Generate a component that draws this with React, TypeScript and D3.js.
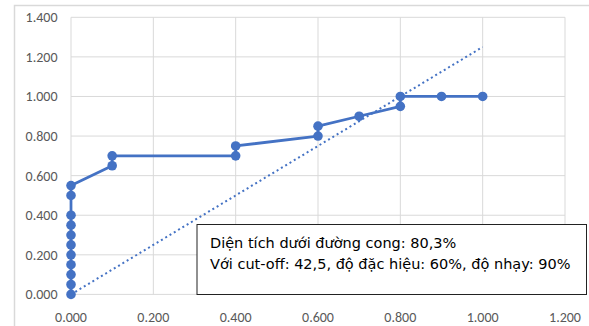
import React from "react";
import * as d3 from "d3";

const W = 589;
const H = 326;

const fprX = [0, 0, 0, 0, 0, 0, 0, 0, 0, 0, 0, 0.1, 0.1, 0.4, 0.4, 0.6, 0.6, 0.7, 0.8, 0.8, 0.9, 1.0];
const tprY = [0, 0.05, 0.1, 0.15, 0.2, 0.25, 0.3, 0.35, 0.4, 0.5, 0.55, 0.65, 0.7, 0.7, 0.75, 0.8, 0.85, 0.9, 0.95, 1.0, 1.0, 1.0];
const refX = [0, 1.0];
const refY = [0, 1.25];
const xTicks = [0, 0.2, 0.4, 0.6, 0.8, 1.0, 1.2];
const yTicks = [0, 0.2, 0.4, 0.6, 0.8, 1.0, 1.2, 1.4];
const noteLines = [
  "Diện tích dưới đường cong: 80,3%",
  "Với cut-off: 42,5, độ đặc hiệu: 60%, độ nhạy: 90%",
];

export default function App() {
  const x = d3.scaleLinear().domain([0, 1.2]).range([71, 565]);
  const y = d3.scaleLinear().domain([0, 1.4]).range([294.4, 17.3]);
  const pts: [number, number][] = fprX.map((v, i) => [v, tprY[i]]);
  const refPts: [number, number][] = refX.map((v, i) => [v, refY[i]]);
  const line = d3
    .line<[number, number]>()
    .x((d) => x(d[0]))
    .y((d) => y(d[1]));
  const fmt = d3.format(".3f");
  const font = "Carlito, 'Open Sans', 'Noto Sans', sans-serif";
  const noteFont = "'DejaVu Sans', 'Noto Sans', sans-serif";
  return (
    <svg
      width={W}
      height={H}
      style={{ position: "absolute", left: 0, top: 0, background: "#fff" }}
    >
      <rect x={14.5} y={5.5} width={W} height={H} fill="#fff" stroke="#d9d9d9" strokeWidth={1.5} />
      {yTicks.map((t) => (
        <line key={"gy" + t} x1={x(0)} x2={x(1.2)} y1={y(t)} y2={y(t)} stroke="#d9d9d9" strokeWidth={1} />
      ))}
      {xTicks.map((t) => (
        <line key={"gx" + t} x1={x(t)} x2={x(t)} y1={y(0)} y2={y(1.4)} stroke="#d9d9d9" strokeWidth={1} />
      ))}
      {yTicks.map((t) => (
        <text
          key={"ty" + t}
          x={57.5}
          y={y(t)}
          dy="0.35em"
          textAnchor="end"
          fontFamily={font}
          fontSize={14}
          fill="#595959"
        >
          {fmt(t)}
        </text>
      ))}
      {xTicks.map((t) => (
        <text
          key={"tx" + t}
          x={x(t)}
          y={321.5}
          textAnchor="middle"
          fontFamily={font}
          fontSize={14}
          fill="#595959"
        >
          {fmt(t)}
        </text>
      ))}
      <path d={line(refPts) || ""} fill="none" stroke="#4472c4" strokeWidth={2} strokeDasharray="2 3" />
      <path d={line(pts) || ""} fill="none" stroke="#4472c4" strokeWidth={2.75} strokeLinejoin="round" />
      {pts.map((p, i) => (
        <circle key={"c" + i} cx={x(p[0])} cy={y(p[1])} r={4.8} fill="#4472c4" />
      ))}
      <rect x={197} y={224.5} width={389.5} height={70} fill="#fff" stroke="#222" strokeWidth={1} />
      {noteLines.map((s, i) => (
        <text key={"n" + i} x={210} y={247.5 + i * 21.5} fontFamily={noteFont} fontSize={14.5} fill="#000">
          {s}
        </text>
      ))}
    </svg>
  );
}
